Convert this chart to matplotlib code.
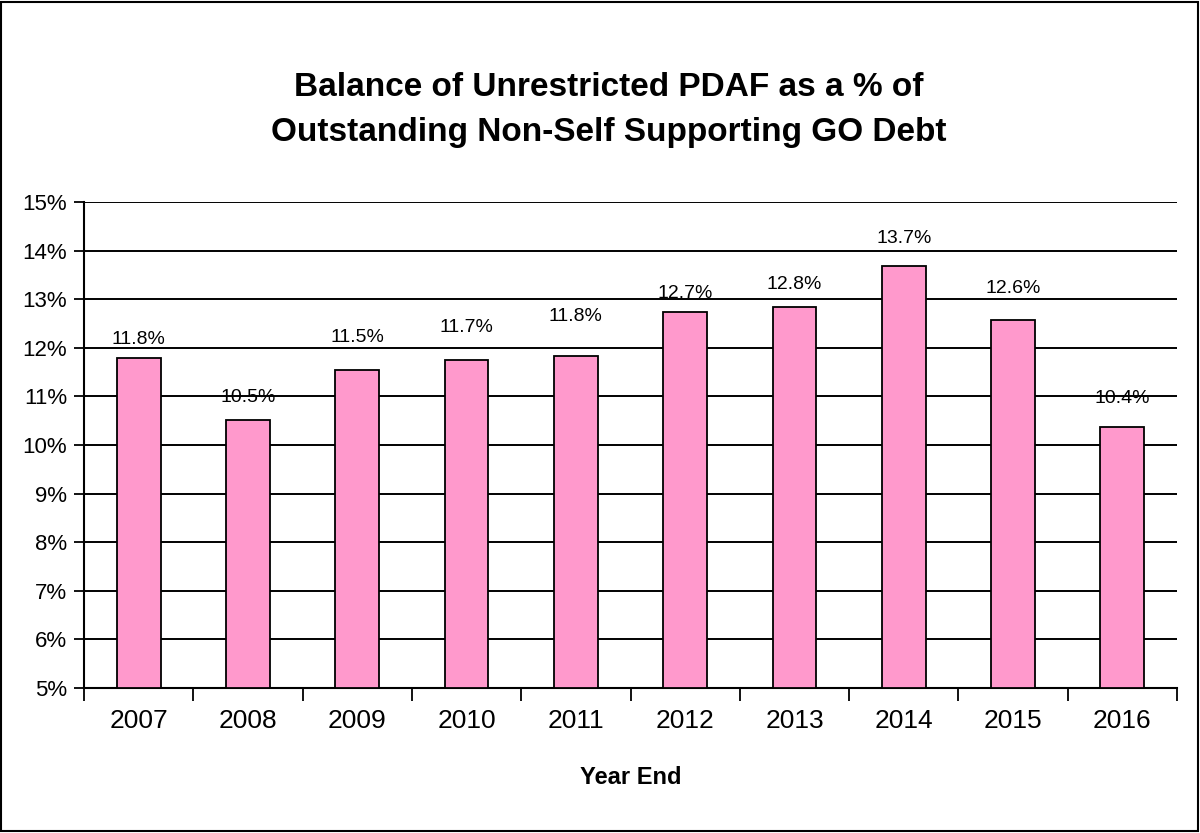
import matplotlib
matplotlib.use("Agg")
import matplotlib.pyplot as plt
from matplotlib.ticker import FuncFormatter, FixedLocator
from matplotlib.patches import Rectangle
from matplotlib import font_manager

# ---- data ----
years = ["2007", "2008", "2009", "2010", "2011", "2012", "2013", "2014", "2015", "2016"]
pct = [11.78, 10.52, 11.54, 11.74, 11.84, 12.74, 12.84, 13.69, 12.58, 10.37]
# label offsets above bar tops (pixels) as placed in the original
label_offsets = [19, 22, 33, 33, 39, 18, 22, 27, 31, 29]

title = "Balance of Unrestricted PDAF as a % of\nOutstanding Non-Self Supporting GO Debt"
xlabel = "Year End"

names = {f.name for f in font_manager.fontManager.ttflist}
fam = ["Liberation Sans Narrow", "Liberation Sans", "DejaVu Sans"]
fam = [f for f in fam if f in names] or ["DejaVu Sans"]
plt.rcParams['font.family'] = fam

fig = plt.figure(figsize=(12, 8.33), dpi=100)
ax = fig.add_axes([84/1200, 1-688/833, (1177-84)/1200, (688-202)/833])

x = list(range(len(years)))
ax.bar(x, [p - 5 for p in pct], bottom=5, width=0.40,
       color="#FF99CC", edgecolor="black", linewidth=1.3, zorder=3)

ax.set_xlim(-0.5, len(years) - 0.5)
ax.set_ylim(5, 15)
ax.set_yticks(range(5, 16))
ax.yaxis.set_major_formatter(FuncFormatter(lambda v, p: f"{int(v)}%"))
ax.grid(axis="y", color="black", linewidth=1.4, zorder=1)
ax.tick_params(axis="y", direction="out", length=7, width=1.3, labelsize=16, pad=5)

ax.set_xticks(x)
ax.set_xticklabels(years)
ax.tick_params(axis="x", length=0, labelsize=19, pad=15)
ax.xaxis.set_minor_locator(FixedLocator([i + 0.5 for i in range(-1, len(years))]))
ax.tick_params(axis="x", which="minor", direction="out", length=9, width=1.3)

for s in ["top", "right"]:
    ax.spines[s].set_visible(False)
for s in ["left", "bottom"]:
    ax.spines[s].set_linewidth(1.5)

for xi, p, off in zip(x, pct, label_offsets):
    ax.annotate(f"{p:.1f}%", xy=(xi, p), xytext=(0, off * 72 / 100),
                textcoords="offset points", ha="center", va="center",
                fontsize=14, zorder=4)

ax.set_xlabel(xlabel, fontsize=17, fontweight="bold", labelpad=24)
fig.text(0.507, 1 - 110/833, title, ha="center", va="center",
         fontsize=24, fontweight="bold", linespacing=1.6)

fig.add_artist(Rectangle((0.001, 0.002), 0.997, 0.996, transform=fig.transFigure,
                         fill=False, edgecolor="black", linewidth=1.5))

fig.savefig("out.png", dpi=100)
